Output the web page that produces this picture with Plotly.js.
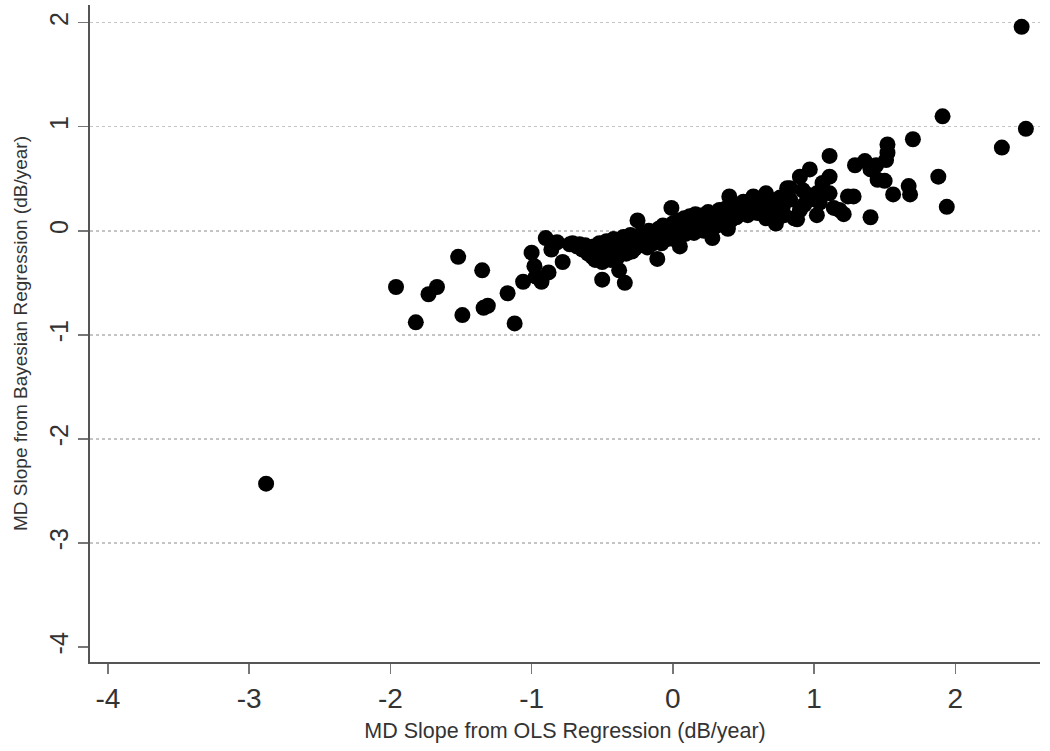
<!DOCTYPE html>
<html>
<head>
<meta charset="utf-8">
<script src="https://cdn.plot.ly/plotly-3.0.1.min.js"></script>
<style>html,body{margin:0;padding:0;background:#fff;}#chart{width:1050px;height:751px;}</style>
</head>
<body>
<div id="chart"></div>
<script>
// OLS slope (x) and Bayesian slope (y), dB/year
const olsSlope = [
  -2.88,-1.96,-1.82,-1.73,-1.67,-1.52,-1.49,-1.35,-1.34,-1.31,-1.17,-1.12,-1.06,-1.00,-0.98,-0.97,-0.93,-0.88,-0.90,-0.82,-0.86,-0.78,-0.71,-0.73,
  -0.68,-0.66,-0.64,-0.62,-0.60,-0.59,-0.57,-0.56,-0.55,-0.53,-0.52,-0.50,-0.50,-0.49,-0.48,-0.47,-0.45,-0.44,-0.43,-0.42,-0.41,-0.40,-0.39,-0.38,-0.37,-0.36,
  -0.35,-0.34,-0.33,-0.32,-0.31,-0.30,-0.29,-0.28,-0.27,-0.25,-0.24,-0.23,-0.22,-0.20,-0.19,-0.18,-0.17,-0.15,-0.14,-0.12,-0.11,-0.11,-0.10,-0.09,-0.08,
  -0.07,-0.05,-0.04,-0.03,-0.02,-0.01,0.00,0.00,0.01,0.02,0.03,0.04,0.05,0.05,0.07,0.08,0.09,0.10,0.11,0.12,0.13,0.14,0.15,0.16,0.18,0.19,0.20,0.21,0.22,
  0.23,0.24,0.25,0.26,0.28,0.28,0.29,0.30,0.31,0.33,0.34,0.35,0.36,0.38,0.38,0.39,0.40,0.41,0.42,0.43,0.45,0.46,0.48,0.49,0.50,0.51,0.53,0.54,0.55,0.56,
  0.57,0.58,0.60,0.61,0.62,0.63,0.65,0.66,0.66,0.68,0.69,0.70,0.71,0.73,0.74,0.75,0.76,0.78,0.79,0.81,
  0.83,0.83,0.86,0.88,0.90,0.90,0.92,0.93,0.95,0.97,0.97,1.02,1.02,1.04,1.06,1.11,1.11,1.11,1.14,1.18,1.21,1.24,1.28,1.29,1.36,1.40,1.40,1.44,1.45,1.50,
  1.51,1.52,1.52,1.56,1.67,1.68,1.70,1.88,1.91,1.94,2.33,2.47,2.50
];
const bayesSlope = [
  -2.43,-0.54,-0.88,-0.61,-0.54,-0.25,-0.81,-0.38,-0.74,-0.72,-0.60,-0.89,-0.49,-0.21,-0.34,-0.44,-0.49,-0.40,-0.07,-0.11,-0.18,-0.30,-0.12,-0.13,
  -0.15,-0.13,-0.18,-0.14,-0.22,-0.17,-0.25,-0.15,-0.28,-0.19,-0.12,-0.47,-0.30,-0.18,-0.25,-0.10,-0.20,-0.28,-0.14,-0.08,-0.22,-0.16,-0.25,-0.38,-0.12,-0.19,
  -0.06,-0.50,-0.22,-0.10,-0.15,-0.04,-0.20,-0.12,-0.17,0.10,-0.08,-0.14,-0.02,-0.10,-0.05,-0.16,0.00,-0.07,-0.12,-0.02,-0.27,-0.10,0.02,-0.06,-0.12,
  0.05,-0.03,-0.08,0.04,-0.05,0.22,0.00,0.07,-0.08,0.03,-0.04,0.10,-0.01,-0.15,0.05,0.12,-0.03,0.08,0.02,0.14,0.06,0.10,-0.02,0.16,0.04,0.11,0.08,0.15,0.00,
  0.12,0.05,0.18,0.09,-0.07,0.10,0.15,0.04,0.13,0.20,0.08,0.11,0.17,0.14,0.22,0.02,0.33,0.10,0.18,0.25,0.13,0.21,0.16,0.23,0.28,0.19,0.15,0.22,0.25,0.18,
  0.33,0.20,0.17,0.24,0.28,0.21,0.19,0.36,0.12,0.25,0.30,0.16,0.22,0.07,0.28,0.20,0.32,0.24,0.15,0.41,
  0.41,0.30,0.12,0.11,0.52,0.20,0.39,0.25,0.35,0.59,0.30,0.36,0.15,0.27,0.46,0.72,0.52,0.36,0.22,0.20,0.16,0.33,0.33,0.63,0.67,0.59,0.13,0.63,0.49,0.48,
  0.68,0.75,0.83,0.35,0.43,0.35,0.88,0.52,1.10,0.23,0.80,1.96,0.98
];
const tickVals = [-4,-3,-2,-1,0,1,2];
const gridVals = [-3,-2,-1,0,1,2];
const xTitle = 'MD Slope from OLS Regression (dB/year)';
const yTitle = 'MD Slope from Bayesian Regression (dB/year)';

const font = 'Liberation Sans, Arial, sans-serif';
const yRange = [-4.144, 2.17];

const traces = [
  {
    type: 'scatter', mode: 'markers', x: olsSlope, y: bayesSlope,
    marker: {color: '#000', size: 16, line: {width: 0}},
    hoverinfo: 'x+y', showlegend: false
  },
  { // invisible helper carrying the dotted horizontal grid (no grid at -4)
    type: 'scatter', mode: 'markers', x: [null], y: [null], yaxis: 'y2',
    showlegend: false, hoverinfo: 'skip'
  }
];

const layout = {
  width: 1050, height: 751,
  margin: {l: 90, r: 10, t: 5, b: 89},
  paper_bgcolor: '#fff', plot_bgcolor: '#fff',
  font: {family: font, color: '#333'},
  showlegend: false,
  xaxis: {
    range: [-4.127, 2.60], tickvals: tickVals, ticktext: tickVals.map(String),
    showgrid: false, zeroline: false,
    showline: true, linecolor: '#555', linewidth: 2,
    ticks: 'outside', ticklen: 10, tickwidth: 1.5, tickcolor: '#777',
    tickfont: {size: 28, color: '#333', family: font},
    title: {text: xTitle, font: {size: 21.5, color: '#333', family: font}, standoff: 10}
  },
  yaxis: {
    range: yRange, tickvals: tickVals, ticktext: tickVals.map(String),
    tickangle: -90,
    showgrid: false, zeroline: false,
    showline: true, linecolor: '#555', linewidth: 2,
    ticks: 'outside', ticklen: 10, tickwidth: 1.5, tickcolor: '#777',
    tickfont: {size: 25, color: '#333', family: font},
    title: {text: yTitle, font: {size: 19, color: '#333', family: font}, standoff: 12}
  },
  yaxis2: {
    overlaying: 'y', range: yRange, tickvals: gridVals,
    showgrid: true, gridcolor: '#c4c4c4', griddash: 'dot', gridwidth: 1.5,
    showticklabels: false, ticks: '', zeroline: false, showline: false
  }
};

Plotly.newPlot('chart', traces, layout, {displayModeBar: false, staticPlot: true});
</script>
</body>
</html>
